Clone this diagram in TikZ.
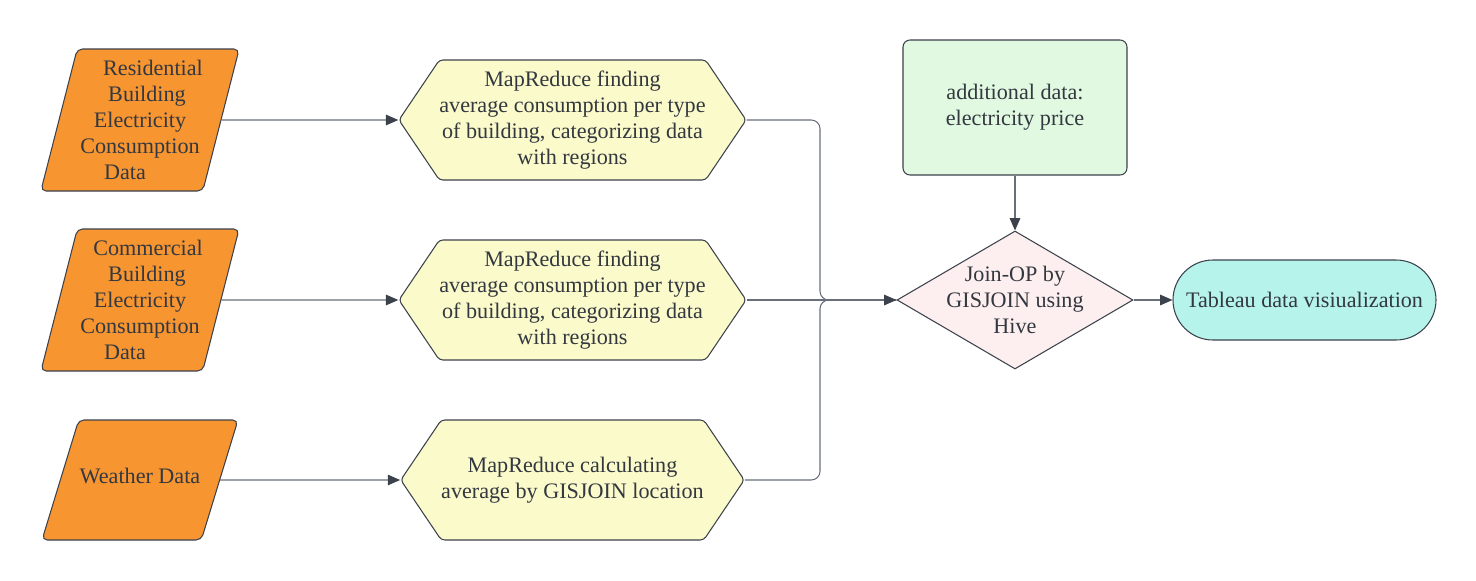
\documentclass[tikz,border=0pt]{standalone}
\usepackage{fontspec}
\setmainfont{Liberation Serif}
\usepackage{tikz}
\usetikzlibrary{arrows.meta, shapes, calc}
\definecolor{ink}{RGB}{51,56,64}
\definecolor{edge}{RGB}{60,66,76}
\definecolor{wire}{RGB}{105,111,121}
\definecolor{orng}{RGB}{247,149,49}
\definecolor{lemon}{RGB}{250,250,202}
\definecolor{mint}{RGB}{224,249,224}
\definecolor{blush}{RGB}{253,239,239}
\definecolor{aqua}{RGB}{182,244,235}
\tikzset{font=\fontsize{12.6}{14.7}\selectfont, text=ink,
    >={Triangle[length=7pt, width=6pt, color=edge]}}
\tikzset{input/.style={trapezium, trapezium left angle=73,
    trapezium right angle=107, trapezium stretches body=true, draw=edge,
    fill=orng, line width=.6pt, rounded corners=3pt, minimum width=3.92cm,
    minimum height=2.84cm, align=center, inner sep=0pt}}
\tikzset{job/.style={signal, signal to=west and east,
    signal pointer angle=112, draw=edge, fill=lemon, line width=.6pt,
    rounded corners=2pt, minimum width=6.86cm, minimum height=2.4cm,
    align=center, inner sep=0pt}}
\tikzset{merger/.style={diamond, aspect=1.71, draw=edge, fill=blush,
    line width=.6pt, minimum width=4.72cm, minimum height=2.76cm,
    align=center, inner sep=-4pt}}
\tikzset{extra/.style={rectangle, draw=edge, fill=mint, line width=.6pt,
    rounded corners=4pt, minimum width=4.48cm, minimum height=2.7cm,
    align=center}}
\tikzset{output/.style={rectangle, draw=edge, fill=aqua, line width=.6pt,
    rounded corners=0.8cm, minimum width=5.26cm, minimum height=1.6cm,
    align=center}}
\tikzset{link/.style={draw=wire, line width=.6pt}}

\begin{document}
\begin{tikzpicture}
    \useasboundingbox (0,0) rectangle (29.52,-11.6);
    % data sources
    \node[input] (res) at (2.8,-2.4) {\hspace*{0.52cm}Residential\\
      \hspace*{0.28cm}Building\\ Electricity\\ Consumption\hspace*{0.32cm}\\
      Data\hspace*{0.6cm}};
    \node[input] (com) at (2.8,-6) {\hspace*{0.32cm}Commercial\\
      \hspace*{0.28cm}Building\\ Electricity\\ Consumption\hspace*{0.32cm}\\
      Data\hspace*{0.6cm}};
    \node[input, minimum height=2.4cm, text height=1.26cm,
      text depth=1.14cm] (wea) at (2.8,-9.6) {Weather Data};
    % mapreduce jobs
    \node[job] (mr1) at (11.45,-2.4) {MapReduce finding\\
      average consumption per type\\ of building, categorizing data\\
      with regions};
    \node[job] (mr2) at (11.45,-6) {MapReduce finding\\
      average consumption per type\\ of building, categorizing data\\
      with regions};
    \node[job] (mr3) at (11.45,-9.6) {MapReduce calculating\\
      average by GISJOIN location};
    % join and output
    \node[extra] (price) at (20.3,-2.15) {additional data:\\
      electricity price};
    \node[merger] (hive) at (20.3,-6) {Join-OP by\\ GISJOIN using\\ Hive};
    \node[output] (tab) at (26.09,-6) {Tableau data visiualization};
    \coordinate (merge) at (16.4,-6);
    \foreach \a/\b in {res/mr1, com/mr2, wea/mr3}
      \draw[link, ->] (\a.east) -- (\b.west);
    \draw[link, rounded corners=5pt] (mr1.east) -| (merge) -- (hive.west);
    \draw[link, rounded corners=5pt] (mr3.east) -| (merge) -- (hive.west);
    \draw[link, ->] (mr2.east) -- (hive.west);
    \draw[link, ->] (price) -- (hive);
    \draw[link, ->] (hive) -- (tab);
\end{tikzpicture}
\end{document}
